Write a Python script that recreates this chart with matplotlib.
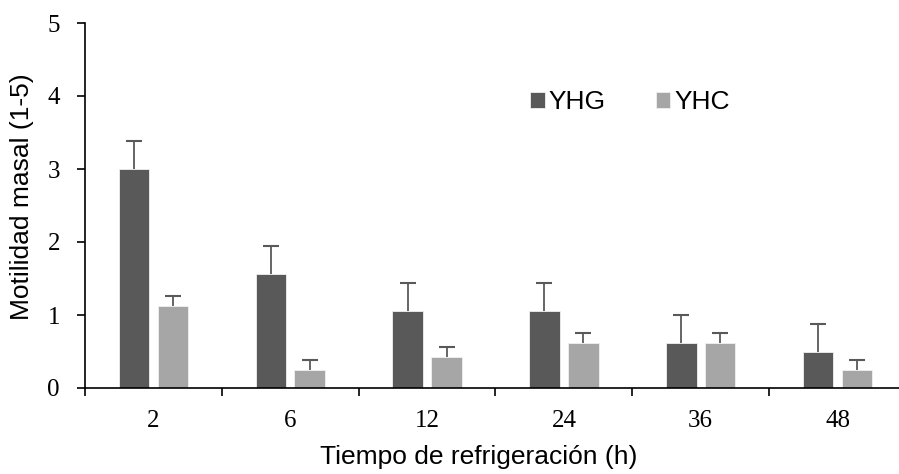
import matplotlib.pyplot as plt
import numpy as np

# Datos
tiempos = ["2", "6", "12", "24", "36", "48"]
yhg = [3.0, 1.56, 1.06, 1.06, 0.62, 0.50]
yhg_err = [0.38, 0.38, 0.38, 0.38, 0.38, 0.38]
yhc = [1.12, 0.25, 0.43, 0.62, 0.62, 0.25]
yhc_err = [0.14, 0.13, 0.13, 0.14, 0.14, 0.13]

color_yhg = "#595959"
color_yhc = "#a6a6a6"
color_err = "#595959"

fig = plt.figure(figsize=(8.99, 4.74), dpi=100)
ax = fig.add_axes([85 / 899, 86 / 474, 821 / 899, 365 / 474])

x = np.arange(len(tiempos))
ancho = 0.222
desp = 0.142

for pos, vals, errs, col, lab in [(x - desp, yhg, yhg_err, color_yhg, "YHG"),
                                  (x + desp, yhc, yhc_err, color_yhc, "YHC")]:
    vals = np.array(vals)
    errs = np.array(errs)
    ax.bar(pos, vals, ancho, color=col, edgecolor="#f0f0f0", linewidth=0.6, label=lab, zorder=2)
    # solo la barra de error superior, con su tope
    ax.errorbar(pos, vals, yerr=[np.zeros(len(vals)), errs], fmt="none",
                ecolor=color_err, elinewidth=1.3, capsize=0, zorder=3)
    ax.plot(pos, vals + errs, linestyle="none", marker="_", markersize=12,
            markeredgewidth=1.5, color=color_err, zorder=3)

ax.set_xlim(-0.5, len(tiempos) - 0.5)
ax.set_ylim(0, 5)

# ticks del eje x en los límites de categoría, etiquetas centradas
ax.set_xticks(np.arange(len(tiempos) + 1) - 0.5)
ax.set_xticklabels([])
ax.set_xticks(x, minor=True)
ax.set_xticklabels(tiempos, minor=True, fontfamily="Liberation Serif", fontsize=18)
ax.tick_params(axis="x", which="minor", length=0, pad=16)
ax.tick_params(axis="x", which="major", length=6, width=1.2, direction="out")
ax.set_yticks([0, 1, 2, 3, 4, 5])
ax.set_yticklabels(["0", "1", "2", "3", "4", "5"], fontfamily="Liberation Serif", fontsize=18)
ax.tick_params(axis="y", length=6, width=1.2, direction="out", pad=12)

for s in ["top", "right"]:
    ax.spines[s].set_visible(False)
for s in ["left", "bottom"]:
    ax.spines[s].set_linewidth(1.2)

ax.set_ylabel("Motilidad masal (1-5)", fontfamily="Liberation Sans", fontsize=19)
ax.set_xlabel("Tiempo de refrigeración (h)", fontfamily="Liberation Sans", fontsize=19)
ax.xaxis.set_label_coords(0.479, -0.155)
ax.yaxis.set_label_coords(-0.062, 0.523)

fig.legend(loc="center", bbox_to_anchor=(630 / 899, 1 - 102 / 474), ncol=2, frameon=False,
           handlelength=0.55, handleheight=0.55, handletextpad=0.15, columnspacing=1.9,
           prop={"family": "Liberation Sans", "size": 19})

plt.savefig("out.png", dpi=100)
